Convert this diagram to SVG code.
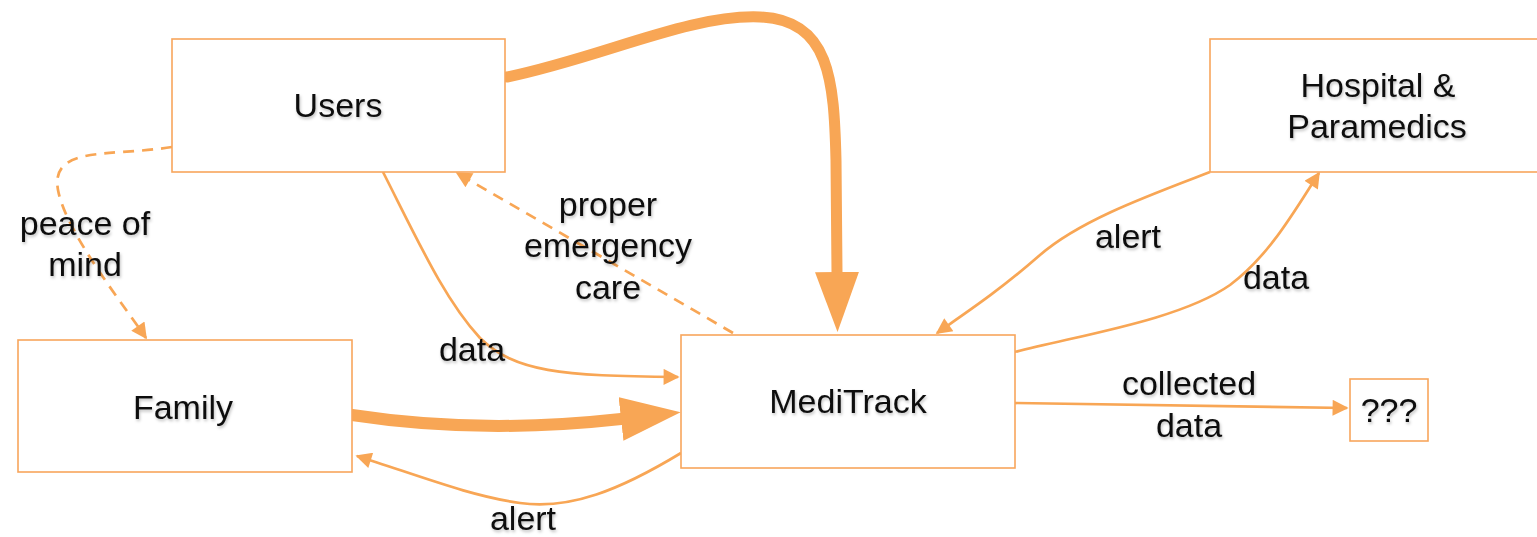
<svg xmlns="http://www.w3.org/2000/svg" width="1537" height="537" viewBox="0 0 1537 537">
<defs>
<style>
.box{fill:#fff;stroke:#F8A65C;stroke-width:1.6}
.lbl{font-family:"Liberation Sans",Arial,Helvetica,sans-serif;font-size:34px;fill:#111;text-anchor:middle;filter:url(#sh)}
.thin{fill:none;stroke:#F8A655;stroke-width:2.7}
.dash{fill:none;stroke:#F8A655;stroke-width:2.7;stroke-dasharray:11 8}
.thick{fill:none;stroke:#F8A655;stroke-linecap:round}
</style>
<filter id="sh" x="-10%" y="-20%" width="120%" height="150%">
<feDropShadow dx="1" dy="2" stdDeviation="1.5" flood-color="#000" flood-opacity="0.25"/>
</filter>
<marker id="ah" viewBox="0 0 10 10" refX="9" refY="5" markerWidth="22" markerHeight="16" markerUnits="userSpaceOnUse" orient="auto">
<path d="M0,0 L10,5 L0,10 z" fill="#F8A655"/>
</marker>
<marker id="big" viewBox="0 0 60 44" refX="0" refY="22" markerWidth="60" markerHeight="44" markerUnits="userSpaceOnUse" orient="auto">
<path d="M0,0 L60,22 L0,44 z" fill="#F8A655"/>
</marker>
</defs>

<g id="connectors">
<path class="thick" stroke-width="11" d="M507,77 C 600,58 690,14 760,17 C 830,20 834,80 836,160 L 837,272" marker-end="url(#big)"/>
<path class="thick" stroke-width="12" d="M352,415 C 450,430 540,428 621,419" marker-end="url(#big)"/>
<path class="thin" d="M383,172 C 420,245 445,300 480,338 C 515,372 560,376 678,377" marker-end="url(#ah)"/>
<path class="dash" d="M733,333 L 457,173" marker-end="url(#ah)"/>
<path class="dash" d="M172,147 C 110,157 50,145 58,190 C 66,232 120,300 146,338" marker-end="url(#ah)"/>
<path class="thin" d="M681,453 C 620,490 570,510 520,503 C 470,496 420,476 357,456" marker-end="url(#ah)"/>
<path class="thin" d="M1210,172 C 1150,195 1080,220 1040,255 C 1000,290 970,310 937,333" marker-end="url(#ah)"/>
<path class="thin" d="M1015,352 C 1080,335 1180,320 1230,285 C 1270,255 1295,210 1319,173" marker-end="url(#ah)"/>
<path class="thin" d="M1015,403 L 1347,408" marker-end="url(#ah)"/>
<text class="lbl" x="85" y="235">peace of</text>
<text class="lbl" x="85" y="276">mind</text>
<text class="lbl" x="472" y="361">data</text>
<text class="lbl" x="608" y="216">proper</text>
<text class="lbl" x="608" y="257">emergency</text>
<text class="lbl" x="608" y="299">care</text>
<text class="lbl" x="523" y="530">alert</text>
<text class="lbl" x="1128" y="248">alert</text>
<text class="lbl" x="1276" y="289">data</text>
<text class="lbl" x="1189" y="395">collected</text>
<text class="lbl" x="1189" y="437">data</text>
</g>

<g id="users">
<rect class="box" x="172" y="39" width="333" height="133"/>
<text class="lbl" x="338" y="117">Users</text>
</g>
<g id="family">
<rect class="box" x="18" y="340" width="334" height="132"/>
<text class="lbl" x="183" y="419">Family</text>
</g>
<g id="meditrack">
<rect class="box" x="681" y="335" width="334" height="133"/>
<text class="lbl" x="848" y="413">MediTrack</text>
</g>
<g id="hospital">
<rect class="box" x="1210" y="39" width="335" height="133"/>
<text class="lbl" x="1378" y="97">Hospital &amp;</text>
<text class="lbl" x="1377" y="138">Paramedics</text>
</g>
<g id="unknown">
<rect class="box" x="1350" y="379" width="78" height="62"/>
<text class="lbl" x="1389" y="422">???</text>
</g>
</svg>
